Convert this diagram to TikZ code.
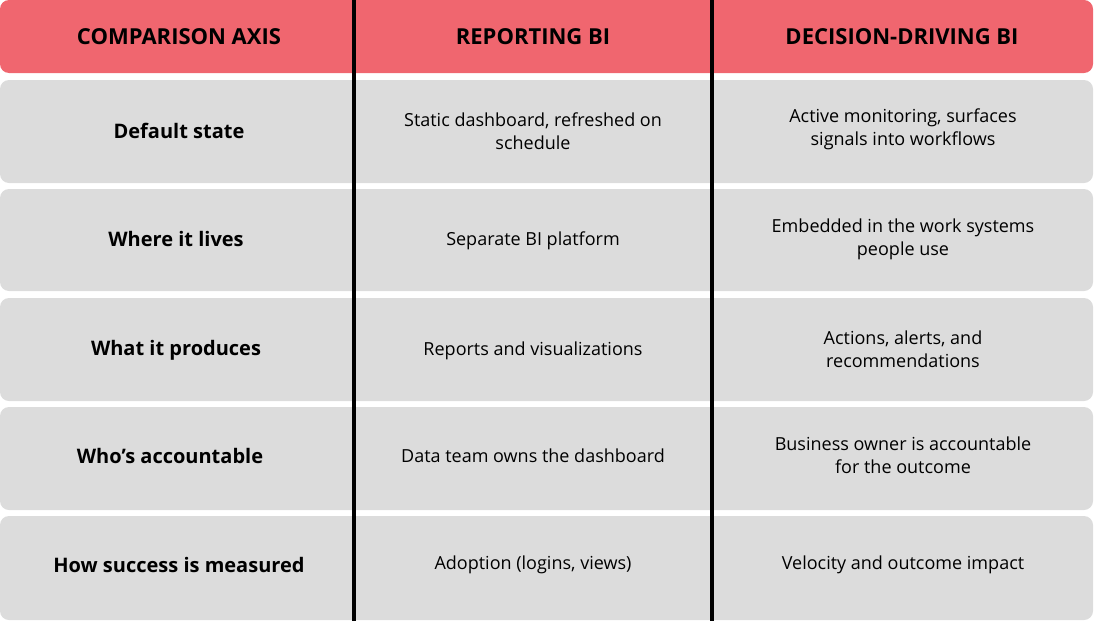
\documentclass[tikz,border=0pt]{standalone}
\usepackage{fontspec}
\setmainfont{Open Sans}
\definecolor{hdr}{HTML}{F0666F}
\definecolor{cell}{HTML}{DCDCDC}
\begin{document}
\begin{tikzpicture}[x=1pt,y=-1pt,
  hdrtxt/.style={font=\fontsize{22}{26}\selectfont\bfseries, text=black},
  axis/.style={font=\fontsize{20}{24}\selectfont\bfseries},
  body/.style={font=\fontsize{18}{23}\selectfont, align=center}]
\useasboundingbox (0,0) rectangle (1094,621);
\fill[hdr, rounded corners=9pt] (0,0) rectangle (1093,73);
\foreach \a/\b in {80/183,189/291,298/401,407/510,516/620}
  \fill[cell, rounded corners=9pt] (0,\a) rectangle (1093,\b);
\draw[line width=4pt] (354,0) -- (354,621);
\draw[line width=4pt] (712,0) -- (712,621);
\node[hdrtxt] (h1) at (179,37) {COMPARISON AXIS};
\node[hdrtxt] (h2) at (533,37) {REPORTING BI};
\node[hdrtxt] (h3) at (902,37) {DECISION-DRIVING BI};
\node[axis] (a1) at (179,131) {Default state};
\node[axis] (a2) at (176,239) {Where it lives};
\node[axis] (a3) at (176,350) {What it produces};
\node[axis] (a4) at (170,456) {Who's accountable};
\node[axis] (a5) at (179,565) {How success is measured};
\node[body] (r1) at (533,131) {Static dashboard, refreshed on\\schedule};
\node[body] (r2) at (533,241) {Separate BI platform};
\node[body] (r3) at (533,351) {Reports and visualizations};
\node[body] (r4) at (533,456) {Data team owns the dashboard};
\node[body] (r5) at (533,565) {Adoption (logins, views)};
\node[body] (d1) at (903,129) {Active monitoring, surfaces\\signals into workflows};
\node[body] (d2) at (903,239) {Embedded in the work systems\\people use};
\node[body] (d3) at (903,349) {Actions, alerts, and\\recommendations};
\node[body] (d4) at (903,455) {Business owner is accountable\\for the outcome};
\node[body] (d5) at (903,565) {Velocity and outcome impact};
\end{tikzpicture}
\end{document}
